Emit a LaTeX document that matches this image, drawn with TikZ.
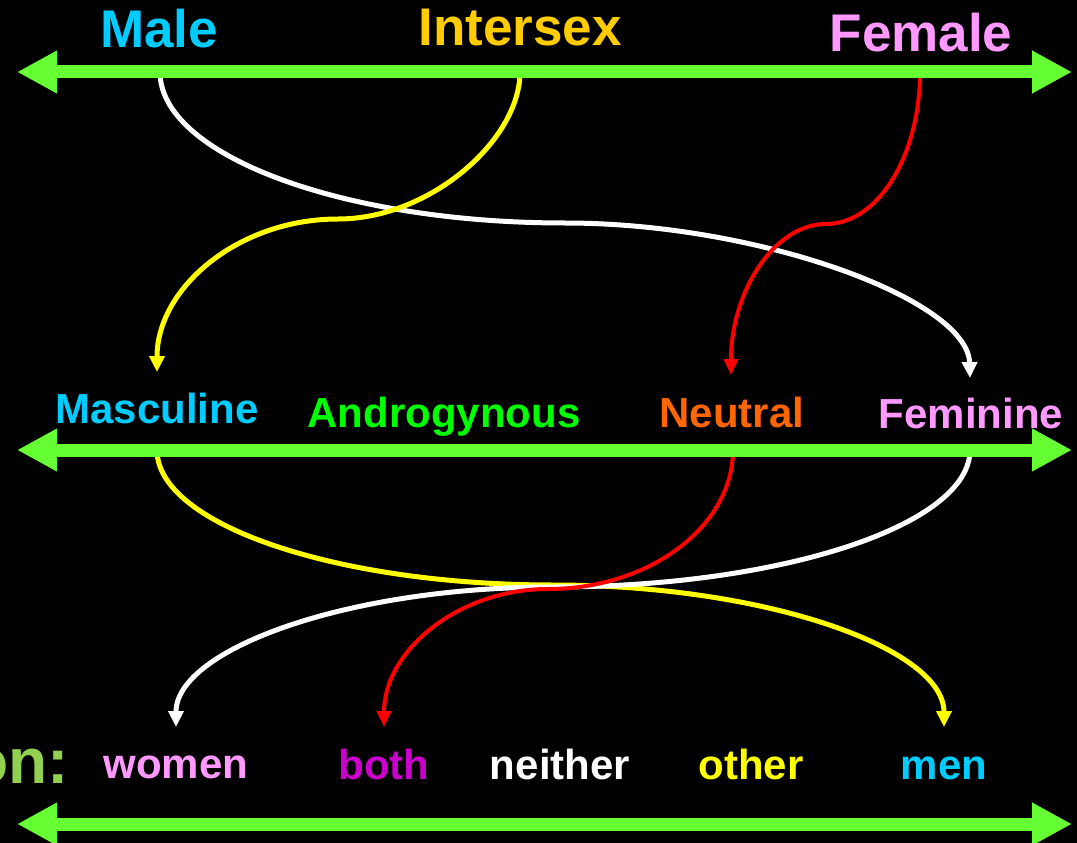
\documentclass[tikz,border=0pt]{standalone}
\usepackage{fontspec}
\setmainfont{Liberation Sans}
\usetikzlibrary{arrows.meta}
\definecolor{gbar}{HTML}{66FF33}
\definecolor{oncol}{HTML}{92D050}
\definecolor{cmale}{HTML}{00CCFF}
\definecolor{cinter}{HTML}{FFCC00}
\definecolor{cfem}{HTML}{FF99FF}
\definecolor{candro}{HTML}{00FF00}
\definecolor{cneut}{HTML}{FF6600}
\definecolor{cboth}{HTML}{CC00CC}
\definecolor{cyel}{HTML}{FFFF00}
\definecolor{cred}{HTML}{FF0000}
\tikzset{
  big/.style={font=\fontsize{53}{60}\selectfont\bfseries, anchor=base, inner sep=0pt},
  mid/.style={font=\fontsize{42}{48}\selectfont\bfseries, anchor=base, inner sep=0pt},
  scale bar/.style={draw=gbar, line width=13pt,
    {Triangle[length=40pt,width=40pt]}-{Triangle[length=40pt,width=40pt]}},
  link/.style={line width=5pt, -{Triangle[length=16pt,width=15pt]}},
  thinlink/.style={line width=4pt, -{Triangle[length=16pt,width=14pt]}}
}
\begin{document}
\begin{tikzpicture}[x=1pt,y=-1pt]
\fill[black] (0,0) rectangle (1077,843);
\useasboundingbox (0,0) rectangle (1077,843);
\begin{scope}
\clip (0,0) rectangle (1077,843);
% bar end points
\coordinate (t1) at (17,72);  \coordinate (t2) at (1072,72);
\coordinate (m1) at (17,450); \coordinate (m2) at (1072,450);
\coordinate (b1) at (17,824); \coordinate (b2) at (1072,824);
% labels
\node[big, text=cmale]  (male)     at (159,48) {Male};
\node[big, text=cinter] (intersex) at (520,46) {Intersex};
\node[big, text=cfem]   (female)   at (921,52) {Female};
\node[mid, text=cmale]  (masc)     at (157,423) {Masculine};
\node[mid, text=candro] (andro)    at (444,427) {Androgynous};
\node[mid, text=cneut]  (neutral)  at (732,427) {Neutral};
\node[mid, text=cfem]   (fem)      at (971,428) {Feminine};
\node[mid, text=cfem]   (women)    at (176,778) {women};
\node[mid, text=cboth]  (both)     at (384,779) {both};
\node[mid, text=white]  (neither)  at (560,779) {neither};
\node[mid, text=cyel]   (other)    at (751,779) {other};
\node[mid, text=cmale]  (men)      at (944,779) {men};
\node[font=\fontsize{64}{70}\selectfont\bfseries, text=oncol, anchor=base east, inner sep=0pt] (onlbl) at (69,783) {on:};
% curve anchor points
\coordinate (sMale)  at (160,72);
\coordinate (sInter) at (520,72);
\coordinate (sFem)   at (920,72);
\coordinate (eMasc)  at (157,372);
\coordinate (eNeut)  at (731,375);
\coordinate (eFem)   at (970,378);
\coordinate (sMasc)  at (157,450);
\coordinate (sNeut)  at (733,450);
\coordinate (sFemB)  at (970,450);
\coordinate (eWomen) at (176,727);
\coordinate (eBoth)  at (384,727);
\coordinate (eMen)   at (944,727);
\coordinate (mW1) at (565,223);
\coordinate (mY1) at (338,219);
\coordinate (mR1) at (826,224);
\coordinate (mY2) at (553,585);
\coordinate (mW2) at (553,587);
\coordinate (mR2) at (548,589);
% top connectors
\draw[link, white] (sMale) .. controls (160,155) and (342,223) .. (mW1)
   .. controls (760,223) and (968,300) .. (eFem);
\draw[link, cyel] (sInter) .. controls (520,140) and (430,219) .. (mY1)
   .. controls (238,219) and (157,288) .. (eMasc);
\draw[thinlink, cred] (sFem) .. controls (920,156) and (878,224) .. (mR1)
   .. controls (774,224) and (731,292) .. (eNeut);
% bottom connectors
\draw[link, cyel] (sMasc) .. controls (157,524) and (335,585) .. (mY2)
   .. controls (768,585) and (944,649) .. (eMen);
\draw[link, white] (sFemB) .. controls (970,525) and (782,587) .. (mW2)
   .. controls (346,587) and (176,650) .. (eWomen);
\draw[thinlink, cred] (sNeut) .. controls (733,526) and (650,589) .. (mR2)
   .. controls (458,589) and (384,651) .. (eBoth);
% scales
\draw[scale bar] (t1) -- (t2);
\draw[scale bar] (m1) -- (m2);
\draw[scale bar] (b1) -- (b2);
\end{scope}
\end{tikzpicture}
\end{document}
